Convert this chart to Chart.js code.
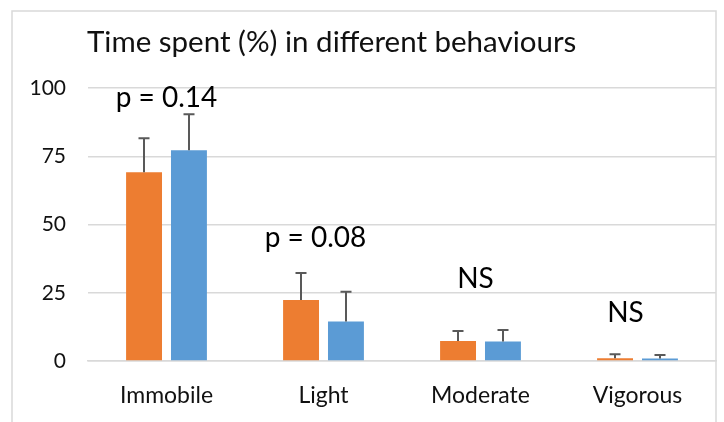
<!DOCTYPE html>
<html>
<head>
<meta charset="utf-8">
<script src="https://cdn.jsdelivr.net/npm/chart.js@4"></script>
<style>
  html, body { margin: 0; padding: 0; background: #fff; }
  #wrap { width: 724px; height: 422px; position: relative; }
</style>
</head>
<body>
<div id="wrap"><canvas id="chart" width="724" height="422"></canvas></div>
<script>
const categories = ['Immobile', 'Light', 'Moderate', 'Vigorous'];
const groupA = [69.1, 22.3, 7.3, 1.0];   // orange
const groupB = [77.2, 14.5, 7.1, 0.9];   // blue
const errA = [12.5, 9.9, 3.7, 1.5];
const errB = [13.2, 10.9, 4.3, 1.3];
const yTicks = [0, 25, 50, 75, 100];
const notes = ['p = 0.14', 'p = 0.08', 'NS', 'NS'];
const noteY = [93, 41.9, 26.8, 14.3];    // baseline of each note, in axis units

const FONT = 'Lato';
const colors = { a: '#ED7D31', b: '#5B9BD5', err: '#595959', grid: '#D9D9D9', text: '#111' };

// frame + title
const framePlugin = {
    id: 'frame',
    beforeDraw(chart) {
        const c = chart.ctx;
        c.save();
        c.strokeStyle = colors.grid;
        c.lineWidth = 1.5;
        c.strokeRect(12, 11, 704, 520);
        c.fillStyle = colors.text;
        c.font = '29.5px ' + FONT;
        c.textBaseline = 'alphabetic';
        c.textAlign = 'left';
        c.fillText('Time spent (%) in different behaviours', 87, 52);
        c.restore();
    }
};

// upper error bars + p-value notes
const errorPlugin = {
    id: 'errbars',
    afterDatasetsDraw(chart) {
        const c = chart.ctx;
        const y = chart.scales.y;
        const errs = [errA, errB];
        c.save();
        c.strokeStyle = colors.err;
        c.lineWidth = 2;
        chart.data.datasets.forEach((ds, di) => {
            chart.getDatasetMeta(di).data.forEach((bar, i) => {
                const top = y.getPixelForValue(ds.data[i] + errs[di][i]);
                const x = Math.round(bar.x);
                c.beginPath();
                c.moveTo(x, bar.y);
                c.lineTo(x, top);
                c.moveTo(x - 5.5, top);
                c.lineTo(x + 5.5, top);
                c.stroke();
            });
        });
        c.fillStyle = '#000';
        c.font = '28px ' + FONT;
        c.textAlign = 'center';
        c.textBaseline = 'alphabetic';
        const shift = [0, -8, -5, -12];
        notes.forEach((t, i) => {
            c.fillText(t, chart.scales.x.getPixelForValue(i) + shift[i], y.getPixelForValue(noteY[i]));
        });
        c.restore();
    }
};

new Chart(document.getElementById('chart'), {
    type: 'bar',
    data: {
        labels: categories,
        datasets: [
            { label: 'A', data: groupA, backgroundColor: colors.a },
            { label: 'B', data: groupB, backgroundColor: colors.b }
        ]
    },
    options: {
        responsive: false,
        animation: false,
        categoryPercentage: 0.572,
        barPercentage: 0.8,
        layout: { padding: { left: 12, right: 8, top: 88, bottom: 0 } },
        plugins: {
            legend: { display: false },
            tooltip: { enabled: false },
            title: { display: false }
        },
        scales: {
            x: {
                grid: { display: false },
                border: { color: colors.grid, width: 1.5 },
                ticks: { color: colors.text, font: { family: FONT, size: 23 }, padding: 13 },
                afterFit(s) { s.height = 61; }
            },
            y: {
                min: 0,
                max: 100,
                afterBuildTicks(s) { s.ticks = yTicks.map(v => ({ value: v })); },
                grid: { color: colors.grid, lineWidth: 1.5, drawTicks: false },
                border: { display: false },
                ticks: { color: colors.text, font: { family: FONT, size: 21 }, padding: 22 },
                afterFit(s) { s.width = 76; }
            }
        }
    },
    plugins: [framePlugin, errorPlugin]
});
</script>
</body>
</html>
